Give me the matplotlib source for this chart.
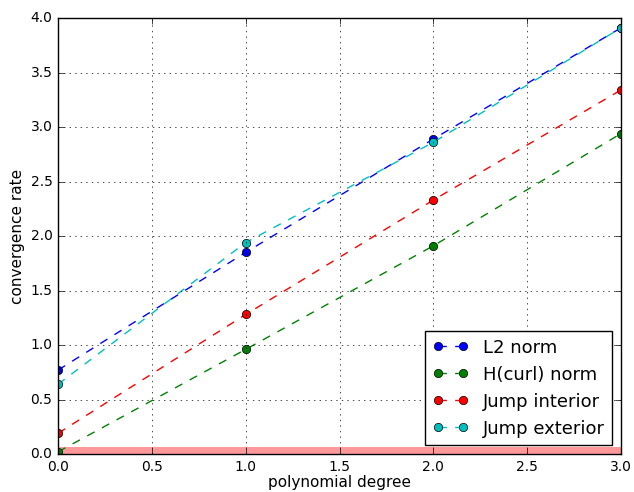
import matplotlib
matplotlib.use("Agg")
import matplotlib.pyplot as plt

plt.style.use("classic")

degrees = [0, 1, 2, 3]
l2_norm = [0.77, 1.85, 2.89, 3.91]
hcurl_norm = [0.02, 0.96, 1.91, 2.94]
jump_interior = [0.19, 1.28, 2.33, 3.34]
jump_exterior = [0.64, 1.94, 2.86, 3.91]

fig = plt.figure(figsize=(6.34, 4.92), dpi=100)
ax = fig.add_axes([0.0915, 0.0772, 0.888, 0.8862])

ax.plot(degrees, l2_norm, "bo--", label="L2 norm")
ax.plot(degrees, hcurl_norm, "go--", label="H(curl) norm")
ax.plot(degrees, jump_interior, "ro--", label="Jump interior")
ax.plot(degrees, jump_exterior, "co--", label="Jump exterior")
ax.axhspan(0, 0.06, color="r", alpha=0.4, lw=0)

ax.set_xlim(0, 3)
ax.set_ylim(0, 4)
ax.grid(True)
ax.tick_params(labelsize=10)
ax.set_xlabel("polynomial degree", fontsize=11, labelpad=1)
ax.set_ylabel("convergence rate", fontsize=11, labelpad=4)
ax.legend(loc="lower right", numpoints=2, fontsize=13)

fig.savefig("out.png", dpi=100)
